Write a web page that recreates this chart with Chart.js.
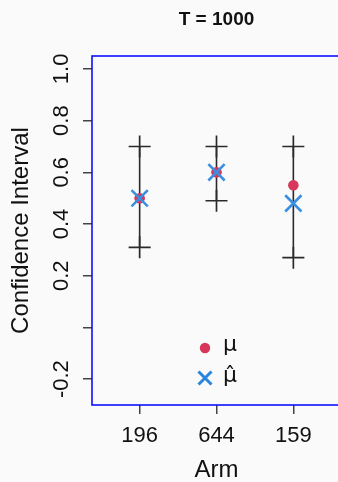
<!DOCTYPE html>
<html>
<head>
<meta charset="utf-8">
<script src="https://cdn.jsdelivr.net/npm/chart.js@4/dist/chart.umd.min.js"></script>
<style>
  html, body { margin: 0; padding: 0; background: #fafafa; overflow: hidden; scrollbar-width: none; }
  ::-webkit-scrollbar { display: none; }
  #wrap { width: 338px; height: 482px; overflow: hidden; }
  canvas { display: block; }
</style>
</head>
<body>
<div id="wrap"><canvas id="ciChart" width="360" height="482"></canvas></div>
<script>
const arms = ['196', '644', '159'];
const upper = [0.70, 0.70, 0.70];
const lower = [0.31, 0.49, 0.27];
const mu = [0.50, 0.60, 0.55];
const muHat = [0.50, 0.60, 0.48];
const yTicks = [-0.2, 0, 0.2, 0.4, 0.6, 0.8, 1.0];
const yTickLabels = ['-0.2', '', '0.2', '0.4', '0.6', '0.8', '1.0'];

const red = '#d6375a';
const blue = '#3a8fe0';
const font = '"Liberation Sans", Arial, sans-serif';

const intervalSets = arms.map((a, i) => ({
  type: 'line',
  data: [{ x: i + 1, y: upper[i] }, { x: i + 1, y: lower[i] }],
  borderColor: '#2a2a2a',
  borderWidth: 1.6,
  pointStyle: 'cross',
  pointRadius: 11,
  pointBorderColor: '#2a2a2a',
  pointBorderWidth: 1.7,
  showLine: true,
  order: 2,
}));

// box, rotated y labels, tick labels, titles and legend
const decor = {
  id: 'decor',
  afterDraw(chart) {
    const ctx = chart.ctx;
    const area = chart.chartArea;
    const xs = chart.scales.x;
    const ys = chart.scales.y;
    ctx.save();
    ctx.strokeStyle = '#1010ff';
    ctx.lineWidth = 1.6;
    ctx.strokeRect(area.left, area.top, area.right - area.left, area.bottom - area.top);

    ctx.fillStyle = '#111';
    ctx.font = 'bold 19px ' + font;
    ctx.textAlign = 'center';
    ctx.textBaseline = 'alphabetic';
    ctx.fillText('T = 1000', (area.left + area.right) / 2, 25);

    ctx.font = '22px ' + font;
    arms.forEach((a, i) => {
      ctx.fillText(a, xs.getPixelForValue(i + 1), 442);
    });
    yTicks.forEach((v, i) => {
      ctx.save();
      ctx.translate(68, ys.getPixelForValue(v));
      ctx.rotate(-Math.PI / 2);
      ctx.fillText(yTickLabels[i], 0, 0);
      ctx.restore();
    });

    ctx.font = '24px ' + font;
    ctx.fillText('Arm', xs.getPixelForValue(2), 477);
    ctx.save();
    ctx.translate(28, (area.top + area.bottom) / 2);
    ctx.rotate(-Math.PI / 2);
    ctx.fillText('Confidence Interval', 0, 0);
    ctx.restore();

    // legend
    const lx = 205;
    ctx.fillStyle = red;
    ctx.beginPath();
    ctx.arc(lx, 348, 5.2, 0, Math.PI * 2);
    ctx.fill();
    ctx.strokeStyle = '#2a84dc';
    ctx.lineWidth = 3;
    ctx.beginPath();
    ctx.moveTo(lx - 6.5, 371.5); ctx.lineTo(lx + 6.5, 384.5);
    ctx.moveTo(lx - 6.5, 384.5); ctx.lineTo(lx + 6.5, 371.5);
    ctx.stroke();
    ctx.fillStyle = '#111';
    ctx.textAlign = 'left';
    ctx.font = '22px "DejaVu Sans", ' + font;
    ctx.fillText('\u03bc', 223, 351);
    ctx.fillText('\u03bc\u0302', 223, 382);
    ctx.restore();
  }
};

new Chart(document.getElementById('ciChart'), {
  type: 'scatter',
  data: {
    datasets: [
      {
        label: 'muHat',
        data: muHat.map((v, i) => ({ x: i + 1, y: v })),
        pointStyle: 'crossRot',
        pointRadius: 11.5,
        pointBorderColor: blue,
        pointBorderWidth: 2.6,
        order: 0,
      },
      {
        label: 'mu',
        data: mu.map((v, i) => ({ x: i + 1, y: v })),
        pointStyle: 'circle',
        pointRadius: 5.3,
        pointBackgroundColor: red,
        pointBorderColor: red,
        pointBorderWidth: 0,
        order: 1,
      },
      ...intervalSets,
    ]
  },
  options: {
    responsive: false,
    animation: false,
    devicePixelRatio: 1,
    layout: { autoPadding: false, padding: { top: 56, right: 19, left: 0, bottom: 0 } },
    plugins: {
      legend: { display: false },
      tooltip: { enabled: false },
    },
    scales: {
      x: {
        type: 'linear',
        min: 0.38,
        max: 3.62,
        afterBuildTicks: (s) => { s.ticks = arms.map((a, i) => ({ value: i + 1 })); },
        afterFit: (s) => { s.height = 77; s.paddingLeft = 0; s.paddingRight = 0; },
        ticks: { display: false },
        border: { display: false },
        grid: { drawOnChartArea: false, drawTicks: true, tickLength: 9, tickColor: '#444', lineWidth: 1.5 },
      },
      y: {
        type: 'linear',
        min: -0.3,
        max: 1.05,
        afterBuildTicks: (s) => { s.ticks = yTicks.map(v => ({ value: v })); },
        afterFit: (s) => { s.width = 92; },
        ticks: { display: false },
        border: { display: false },
        grid: { drawOnChartArea: false, drawTicks: true, tickLength: 9, tickColor: '#444', lineWidth: 1.5 },
      }
    }
  },
  plugins: [decor]
});
</script>
</body>
</html>
